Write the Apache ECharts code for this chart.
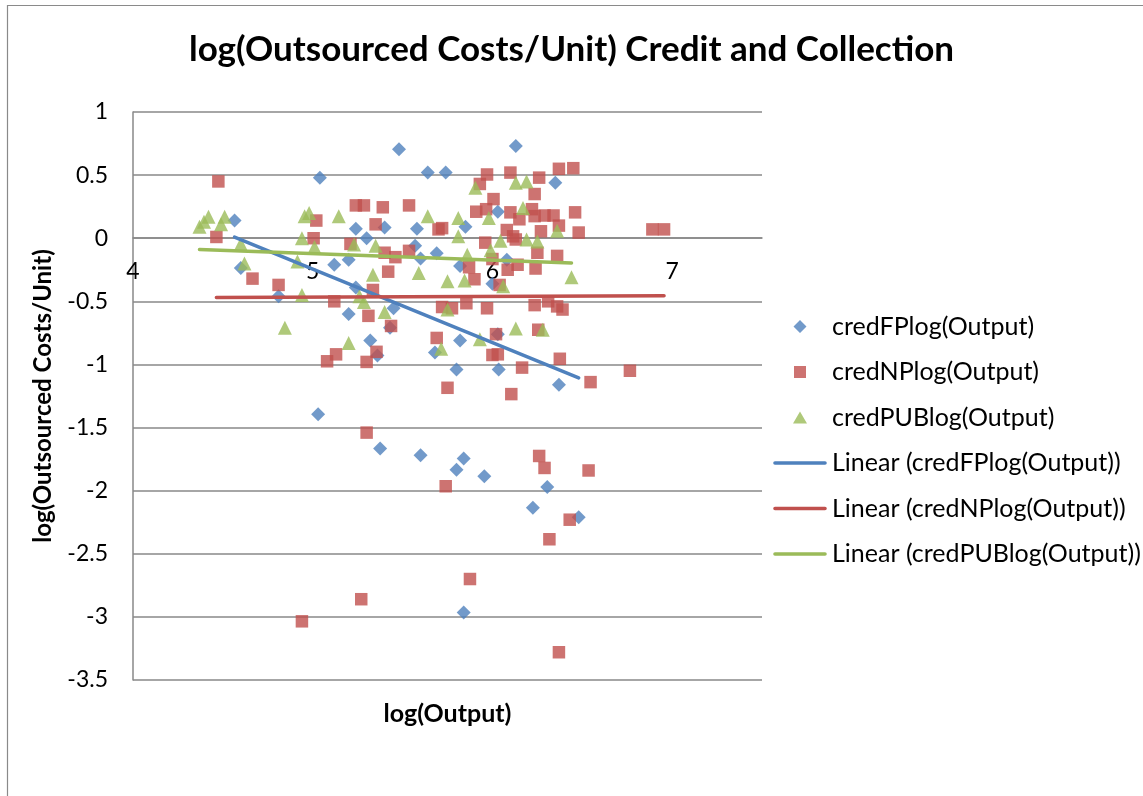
<!DOCTYPE html>
<html>
<head>
<meta charset="utf-8">
<script src="https://cdn.jsdelivr.net/npm/echarts@6/dist/echarts.min.js"></script>
<style>
html,body{margin:0;padding:0;background:#fff;}
#chart{width:1143px;height:796px;}
</style>
</head>
<body>
<div id="chart"></div>
<script>
// ---- Data ----
const chartTitle = 'log(Outsourced Costs/Unit) Credit and Collection';
const xAxisName = 'log(Output)';
const yAxisName = 'log(Outsourced Costs/Unit)';
const seriesNames = ['credFPlog(Output)', 'credNPlog(Output)', 'credPUBlog(Output)'];
const trendNames = ['Linear (credFPlog(Output))', 'Linear (credNPlog(Output))', 'Linear (credPUBlog(Output))'];
const xTicks = [4, 5, 6, 7];

const fpX = [4.565, 4.60, 4.81, 5.04, 5.03, 5.12, 5.20, 5.24, 5.30, 5.20, 5.24, 5.32, 5.36, 5.375, 5.40, 5.43, 5.45, 5.48, 5.57, 5.58, 5.60, 5.60, 5.64, 5.68, 5.69, 5.74, 5.80, 5.80, 5.82, 5.82, 5.84, 5.84, 5.85, 5.955, 6.0, 6.03, 6.03, 6.035, 6.08, 6.13, 6.225, 6.305, 6.35, 6.37, 6.48];
const fpY = [0.14, -0.235, -0.46, 0.48, -1.395, -0.21, -0.17, 0.075, 0.0, -0.60, -0.39, -0.81, -0.93, -1.665, 0.085, -0.71, -0.555, 0.705, -0.06, 0.075, -0.16, -1.72, 0.52, -0.905, -0.12, 0.52, -1.04, -1.835, -0.22, -0.81, -1.745, -2.965, 0.09, -1.885, -0.36, 0.21, -0.76, -1.04, -0.17, 0.73, -2.135, -1.97, 0.44, -1.16, -2.21];

const npX = [4.475, 4.464, 4.665, 4.81, 4.94, 5.005, 5.02, 5.08, 5.12, 5.13, 5.21, 5.24, 5.27, 5.285, 5.30, 5.30, 5.31, 5.335, 5.35, 5.355, 5.39, 5.40, 5.42, 5.436, 5.46, 5.536, 5.536, 5.69, 5.70, 5.72, 5.72, 5.74, 5.75, 5.775, 5.855, 5.87, 5.875, 5.90, 5.91, 5.93, 5.96, 5.965, 5.97, 5.97, 6.0, 6.0, 6.006, 6.02, 6.03, 6.04, 6.08, 6.085, 6.10, 6.10, 6.105, 6.115, 6.13, 6.14, 6.15, 6.165, 6.22, 6.235, 6.235, 6.235, 6.24, 6.25, 6.255, 6.26, 6.26, 6.27, 6.29, 6.29, 6.31, 6.317, 6.34, 6.36, 6.36, 6.37, 6.37, 6.37, 6.375, 6.39, 6.43, 6.45, 6.46, 6.48, 6.535, 6.546, 6.765, 6.89, 6.955];
const npY = [0.45, 0.01, -0.32, -0.37, -3.035, 0.0, 0.14, -0.975, -0.50, -0.92, -0.045, 0.26, -2.86, 0.26, -0.98, -1.54, -0.615, -0.41, 0.11, -0.90, 0.245, -0.115, -0.265, -0.695, -0.15, 0.26, -0.10, -0.79, 0.07, 0.08, -0.545, -1.965, -1.185, -0.555, -0.515, -0.23, -2.70, -0.325, 0.21, 0.43, -0.035, 0.23, 0.505, -0.555, -0.165, -0.925, 0.31, -0.76, -0.92, -0.37, 0.065, -0.25, 0.52, 0.205, -1.235, 0.015, -0.01, -0.21, 0.15, -1.025, 0.23, 0.35, 0.175, -0.53, -0.24, -0.115, -0.725, 0.48, -1.725, 0.055, 0.18, -1.82, -0.50, -2.385, 0.18, -0.14, -0.54, 0.55, 0.10, -3.28, -0.955, -0.565, -2.23, 0.555, 0.205, 0.045, -1.84, -1.14, -1.05, 0.07, 0.07];

const pubX = [4.37, 4.395, 4.42, 4.49, 4.51, 4.60, 4.62, 4.845, 4.915, 4.94, 4.94, 4.955, 4.98, 5.01, 5.145, 5.20, 5.23, 5.26, 5.285, 5.335, 5.35, 5.40, 5.59, 5.64, 5.715, 5.75, 5.75, 5.81, 5.81, 5.845, 5.86, 5.905, 5.93, 5.98, 5.99, 6.045, 6.06, 6.13, 6.13, 6.17, 6.19, 6.19, 6.25, 6.28, 6.36, 6.44];
const pubY = [0.09, 0.13, 0.17, 0.11, 0.17, -0.045, -0.20, -0.71, -0.185, 0.0, -0.45, 0.175, 0.20, -0.07, 0.175, -0.83, -0.05, -0.46, -0.505, -0.29, -0.06, -0.585, -0.275, 0.175, -0.875, -0.34, -0.565, 0.16, 0.015, -0.335, -0.13, 0.40, -0.80, 0.16, -0.095, -0.02, -0.38, 0.44, -0.715, 0.24, 0.45, -0.01, -0.025, -0.725, 0.06, -0.31];

// ---- helpers ----
function pairs(xs, ys) { return xs.map((x, i) => [x, ys[i]]); }
function trend(xs, ys) {
  const n = xs.length;
  const mx = xs.reduce((a, b) => a + b, 0) / n;
  const my = ys.reduce((a, b) => a + b, 0) / n;
  let sxy = 0, sxx = 0;
  for (let i = 0; i < n; i++) { sxy += (xs[i] - mx) * (ys[i] - my); sxx += (xs[i] - mx) * (xs[i] - mx); }
  const b = sxy / sxx, a = my - b * mx;
  const x0 = Math.min(...xs), x1 = Math.max(...xs);
  return [[x0, a + b * x0], [x1, a + b * x1]];
}

// legend icons: 54x13 boxes (invisible corner points keep proportions)
const BOX = ' M0,0 L0.01,0 Z M54,13 L53.99,13 Z';
const iconDiamond = 'path://M27,0 L33.5,6.5 L27,13 L20.5,6.5 Z' + BOX;
const iconSquare = 'path://M21,0.5 L33,0.5 L33,12.5 L21,12.5 Z' + BOX;
const iconTriangle = 'path://M27,0.5 L34,12.5 L20,12.5 Z' + BOX;
const iconLine = 'path://M2,4.7 L52,4.7 A1.8,1.8 0 0 1 52,8.3 L2,8.3 A1.8,1.8 0 0 1 2,4.7 Z' + BOX;

const colors = ['#4F81BD', '#C0504D', '#9BBB59'];
const FONT = 'Lato';
const gridColor = '#888888';

// plot frame (pixels) and value range
const GRID = { left: 133, top: 112, width: 629, height: 568 };
const Y_MIN = -3.5, Y_MAX = 1;
const zeroOffset = -GRID.height * (0 - Y_MIN) / (Y_MAX - Y_MIN); // x axis crosses at y = 0

const chart = echarts.init(document.getElementById('chart'), null, { renderer: 'canvas' });
chart.setOption({
  animation: false,
  backgroundColor: '#fff',
  title: {
    text: chartTitle,
    left: 'center',
    top: 27,
    textStyle: { fontFamily: FONT, fontWeight: 'bold', fontSize: 35, color: '#000' }
  },
  graphic: [{
    type: 'rect', left: 5, top: 3, z: -10,
    shape: { width: 1160, height: 820 },
    style: { fill: 'none', stroke: '#8a8a8a', lineWidth: 1.2 }
  }],
  legend: {
    orient: 'vertical',
    left: 768,
    top: 309,
    itemWidth: 54,
    itemHeight: 13,
    itemGap: 20.5,
    itemStyle: { borderWidth: 0 },
    textStyle: { fontFamily: FONT, fontSize: 25, color: '#000' },
    data: [
      { name: seriesNames[0], icon: iconDiamond },
      { name: seriesNames[1], icon: iconSquare },
      { name: seriesNames[2], icon: iconTriangle },
      { name: trendNames[0], icon: iconLine },
      { name: trendNames[1], icon: iconLine },
      { name: trendNames[2], icon: iconLine }
    ]
  },
  grid: Object.assign({ containLabel: false, outerBoundsMode: 'none' }, GRID),
  xAxis: {
    type: 'value',
    min: 4, max: 7.5, interval: 1,
    position: 'bottom',
    offset: zeroOffset,
    name: xAxisName,
    nameLocation: 'middle',
    nameGap: 463,
    nameTextStyle: { fontFamily: FONT, fontWeight: 'bold', fontSize: 25, color: '#000' },
    axisLine: { onZero: false, lineStyle: { color: gridColor, width: 1.5 } },
    axisTick: { show: false },
    splitLine: { show: false },
    axisLabel: {
      margin: 22, showMaxLabel: false,
      fontFamily: FONT, fontSize: 23, color: '#000',
      formatter: v => (xTicks.indexOf(v) >= 0 ? String(v) : '')
    }
  },
  yAxis: {
    type: 'value',
    min: Y_MIN, max: Y_MAX, interval: 0.5,
    name: yAxisName,
    nameLocation: 'middle',
    nameGap: 78,
    nameTextStyle: { fontFamily: FONT, fontWeight: 'bold', fontSize: 24, color: '#000' },
    axisLine: { show: true, onZero: false, lineStyle: { color: gridColor, width: 1.5 } },
    axisTick: { show: false },
    splitLine: { show: true, lineStyle: { color: gridColor, width: 1.5 } },
    axisLabel: { margin: 25, fontFamily: FONT, fontSize: 23, color: '#000' }
  },
  series: [
    { name: seriesNames[0], type: 'scatter', symbol: 'diamond', symbolSize: 14, itemStyle: { color: colors[0] }, data: pairs(fpX, fpY) },
    { name: seriesNames[1], type: 'scatter', symbol: 'rect', symbolSize: 12.5, itemStyle: { color: colors[1] }, data: pairs(npX, npY) },
    { name: seriesNames[2], type: 'scatter', symbol: 'triangle', symbolSize: 14, itemStyle: { color: colors[2] }, data: pairs(pubX, pubY) },
    { name: trendNames[0], type: 'line', symbol: 'none', lineStyle: { color: colors[0], width: 3.5, cap: 'round' }, itemStyle: { color: colors[0] }, data: trend(fpX, fpY) },
    { name: trendNames[1], type: 'line', symbol: 'none', lineStyle: { color: colors[1], width: 3.5, cap: 'round' }, itemStyle: { color: colors[1] }, data: trend(npX, npY) },
    { name: trendNames[2], type: 'line', symbol: 'none', lineStyle: { color: colors[2], width: 3.5, cap: 'round' }, itemStyle: { color: colors[2] }, data: trend(pubX, pubY) }
  ]
});
</script>
</body>
</html>
